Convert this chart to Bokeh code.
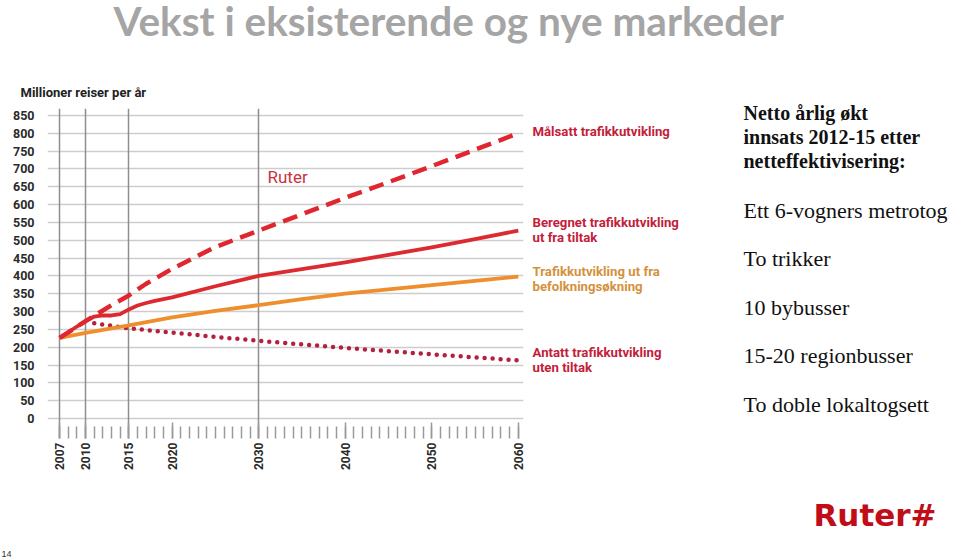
from bokeh.plotting import figure
from bokeh.models import FixedTicker, Grid, Label, Range1d
from bokeh.layouts import column, row
from bokeh.embed import file_html
from bokeh.resources import INLINE
import math

# ---------------- data ----------------
years_target = [2007, 2010, 2011, 2013, 2015, 2017, 2020, 2025, 2030, 2035, 2040, 2045, 2050, 2055, 2060]
target = [226, 273, 288, 318, 345, 378, 420, 481, 527, 573, 619, 663, 708, 754, 800]

years_calc = [2007, 2008, 2009, 2010, 2011, 2012, 2013, 2014, 2015, 2016, 2017, 2018, 2020, 2025, 2030,
              2035, 2040, 2045, 2050, 2055, 2060]
calc = [226, 242, 258, 273, 286, 289, 289, 293, 306, 317, 324, 330, 340, 371, 400,
        419, 438, 459, 480, 503, 527]

years_pop = [2007, 2010, 2015, 2020, 2025, 2030, 2035, 2040, 2045, 2050, 2055, 2060]
pop = [226, 240, 261, 284, 302, 318, 335, 350, 362, 374, 386, 398]

years_none = [2011, 2015, 2020, 2025, 2030, 2040, 2050, 2060]
none = [267, 253, 241, 229, 218, 198, 180, 163]

y_ticks = list(range(0, 851, 50))
x_label_years = [2007, 2010, 2015, 2020, 2030, 2040, 2050, 2060]
x_minor_years = list(range(2007, 2061))
x_vlines = [2007, 2010, 2015, 2030]

title_text = "Vekst i eksisterende og nye markeder"
y_title = "Millioner reiser per år"
series_labels = [
    ("Målsatt trafikkutvikling", None),
    ("Beregnet trafikkutvikling", "ut fra tiltak"),
    ("Trafikkutvikling ut fra", "befolkningsøkning"),
    ("Antatt trafikkutvikling", "uten tiltak"),
]
side_heading = ["Netto årlig økt", "innsats 2012-15 etter", "netteffektivisering:"]
side_items = ["Ett 6-vogners metrotog", "To trikker", "10 bybusser", "15-20 regionbusser",
              "To doble lokaltogsett"]
page_no = "14"
logo_text = "Ruter#"

# ---------------- layout geometry (page px) ----------------
W, H = 959, 559
TOP_H = 103            # title strip
CHART_W = 531
CHART_H = 440
BOT_H = H - TOP_H - CHART_H
SIDE_W = W - CHART_W


def text_fig(w, h):
    f = figure(width=w, height=h, output_backend="svg", toolbar_location=None,
               x_range=Range1d(0, w), y_range=Range1d(h, 0),
               min_border_left=0, min_border_right=0, min_border_top=0, min_border_bottom=0,
               frame_align=False)
    f.axis.visible = False
    f.grid.visible = False
    f.outline_line_color = None
    f.background_fill_color = "white"
    f.border_fill_color = "white"
    return f


def lab(f, ox, oy, px, py, text, **kw):
    """px: left edge on page, py: vertical middle on page."""
    d = dict(x=px - ox, y=py - oy, text=text, text_baseline="middle", text_align="left")
    d.update(kw)
    f.add_layout(Label(**d))


# ---------------- title strip ----------------
top = text_fig(W, TOP_H)
lab(top, 0, 0, 113, 20, title_text, text_font="Lato", text_font_style="bold",
    text_font_size="40.5px", text_color="#a5a5a5")
lab(top, 0, 0, 20, 91.5, y_title, text_font="Roboto", text_font_style="bold",
    text_font_size="13px", text_color="#222222")

# ---------------- chart ----------------
FL, FR, FT, FB = 47, 523, 108, 438   # frame edges on page
p = figure(width=CHART_W, height=CHART_H, output_backend="svg", toolbar_location=None,
           x_range=(2005.6, 2060.6), y_range=(-56.1, 869.6),
           min_border_left=FL, min_border_right=CHART_W - FR,
           min_border_top=FT - TOP_H, min_border_bottom=TOP_H + CHART_H - FB,
           frame_align=False)
p.outline_line_color = None
p.background_fill_color = "white"
p.border_fill_color = "white"

p.ygrid.ticker = FixedTicker(ticks=y_ticks)
p.ygrid.grid_line_color = "#cdcdcd"
p.ygrid.grid_line_width = 1.5
p.xgrid.visible = False
p.add_layout(Grid(dimension=0, ticker=FixedTicker(ticks=x_vlines),
                  grid_line_color="#8e8e8e", grid_line_width=1.5))

ya = p.yaxis[0]
ya.ticker = FixedTicker(ticks=y_ticks)
ya.axis_line_color = None
ya.major_tick_line_color = None
ya.minor_tick_line_color = None
ya.major_label_standoff = 7
ya.major_label_text_font = "Roboto"
ya.major_label_text_font_style = "bold"
ya.major_label_text_font_size = "12.5px"
ya.major_label_text_color = "#2b2b2b"

xa = p.xaxis[0]
xa.ticker = FixedTicker(ticks=x_label_years, minor_ticks=x_minor_years)
xa.axis_line_color = None
xa.major_tick_in = 16
xa.major_tick_out = 0
xa.minor_tick_in = 12
xa.minor_tick_out = 0
xa.major_tick_line_color = "#9a9a9a"
xa.minor_tick_line_color = "#9a9a9a"
xa.major_tick_line_width = 1.5
xa.minor_tick_line_width = 1.5
xa.major_label_orientation = math.pi / 2
xa.major_label_standoff = 4
xa.major_label_text_font = "Roboto"
xa.major_label_text_font_style = "bold"
xa.major_label_text_font_size = "12px"
xa.major_label_text_color = "#2b2b2b"

p.line(years_none, none, line_color="#b5203f", line_width=4.5, line_dash="0 8", line_cap="round")
p.line(years_pop, pop, line_color="#ef8e2c", line_width=3.8)
p.line(years_calc, calc, line_color="#dd2a31", line_width=3.8, line_join="round")
p.line(years_target, target, line_color="#e0272f", line_width=4.5, line_dash="15 8")

# "Ruter" inside the chart (screen units relative to the frame)
p.add_layout(Label(x=267 - FL, y=FB - 176, x_units="screen", y_units="screen", text="Ruter",
                   text_baseline="middle", text_font="Roboto", text_font_size="17px",
                   text_color="#c8323e"))

# ---------------- side panel ----------------
side = text_fig(SIDE_W, CHART_H)
ox, oy = CHART_W, TOP_H
ann_colors = ["#c3203a", "#c3203a", "#d4913c", "#c3203a"]
ann_mid = [130.5, 222, 271, 352]
for (l1, l2), c, m in zip(series_labels, ann_colors, ann_mid):
    lab(side, ox, oy, 532, m, l1, text_font="Roboto", text_font_style="bold",
        text_font_size="13.2px", text_color=c)
    if l2:
        lab(side, ox, oy, 532, m + 14.5, l2, text_font="Roboto", text_font_style="bold",
            text_font_size="13.2px", text_color=c)

for i, t in enumerate(side_heading):
    lab(side, ox, oy, 743, 112.5 + 24 * i, t, text_font="Liberation Serif", text_font_style="bold",
        text_font_size="20px", text_color="#111111")
for i, t in enumerate(side_items):
    lab(side, ox, oy, 743, 209.5 + 48.6 * i, t, text_font="Liberation Serif",
        text_font_size="22px", text_color="#111111")

lab(side, ox, oy, 813, 514, logo_text, text_font="DejaVu Sans", text_font_style="bold",
    text_font_size="31px", text_color="#c10d18")

# ---------------- bottom strip (page number) ----------------
bottom = text_fig(W, BOT_H)
lab(bottom, 0, TOP_H + CHART_H, 1, 553, page_no, text_font="Liberation Sans",
    text_font_size="9px", text_color="#333333")

layout = column(top, row(p, side, spacing=0), bottom, spacing=0)

open("out.html", "w").write(file_html(layout, INLINE))
